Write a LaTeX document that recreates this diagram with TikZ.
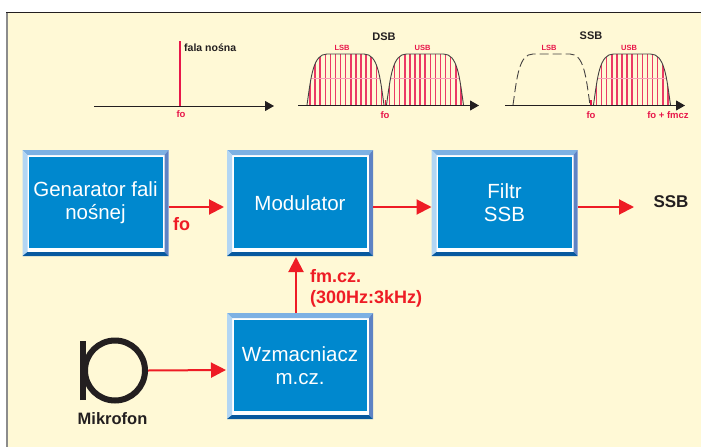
\documentclass[tikz,border=0pt]{standalone}
\usepackage{fontspec}
\setmainfont{Liberation Sans}
\usetikzlibrary{arrows.meta}
\definecolor{paper}{HTML}{FFF9D6}
\definecolor{boxblue}{HTML}{0088CE}
\definecolor{bevtop}{HTML}{7DB1E3}
\definecolor{bevleft}{HTML}{B3D6F3}
\definecolor{bevright}{HTML}{5E83C4}
\definecolor{bevbot}{HTML}{07599F}
\definecolor{sigred}{HTML}{EE1C25}
\definecolor{specred}{HTML}{E8174A}
\definecolor{ink}{HTML}{231F20}
\tikzstyle{block} = [rectangle, fill=white, inner sep=0pt, outer sep=0pt,
    minimum width=146pt, minimum height=106pt, text=white, align=center,
    font=\fontsize{20.5}{23}\selectfont,
    path picture={
      \coordinate (nw) at (path picture bounding box.north west);
      \coordinate (ne) at (path picture bounding box.north east);
      \coordinate (sw) at (path picture bounding box.south west);
      \coordinate (se) at (path picture bounding box.south east);
      \fill[bevtop] (nw) -- (ne) -- ([shift={(-4pt,-5pt)}]ne) -- ([shift={(5pt,-5pt)}]nw) -- cycle;
      \fill[bevleft] (nw) -- (sw) -- ([shift={(5pt,4pt)}]sw) -- ([shift={(5pt,-5pt)}]nw) -- cycle;
      \fill[bevright] (ne) -- (se) -- ([shift={(-4pt,4pt)}]se) -- ([shift={(-4pt,-5pt)}]ne) -- cycle;
      \fill[bevbot] (sw) -- (se) -- ([shift={(-4pt,4pt)}]se) -- ([shift={(5pt,4pt)}]sw) -- cycle;
      \fill[boxblue] ([shift={(6.5pt,-7pt)}]nw) rectangle ([shift={(-6pt,8pt)}]se);
    }]
\tikzstyle{signal} = [draw=sigred, line width=2pt,
    -{Triangle[length=15pt,width=15pt]}]
\tikzstyle{axis} = [draw=ink, line width=0.9pt,
    -{Triangle[length=9pt,width=10pt]}]
\tikzstyle{envelope} = [draw=ink!85, line width=0.9pt]
\tikzstyle{speclabel} = [text=specred, font=\bfseries\fontsize{7.5}{8}\selectfont, inner sep=0pt]
\tikzstyle{freqlabel} = [text=specred, font=\bfseries\fontsize{9.5}{10}\selectfont, inner sep=0pt]
\tikzstyle{title} = [text=ink, font=\bfseries\fontsize{11}{12}\selectfont, inner sep=0pt]
\tikzstyle{redlabel} = [text=sigred, font=\bfseries\fontsize{18}{21}\selectfont, inner sep=0pt, align=left]
\tikzstyle{blacklabel} = [text=ink, font=\bfseries\fontsize{16.5}{18}\selectfont, inner sep=0pt]
\tikzstyle{micring} = [draw=ink, circle, line width=6pt, minimum size=60pt, inner sep=0pt]
\newcommand{\lobeoutline}{(0,0) .. controls (4,-28) and (6,-51) .. (20,-51) -- (57,-51) .. controls (71,-51) and (73,-28) .. (77,0)}
\newcommand{\hatchedlobe}[1]{%
  \begin{scope}[shift={(#1,105)}]
    \begin{scope}
      \clip \lobeoutline -- cycle;
      \foreach \i in {0,...,14} {
        \draw[specred!85, line width=1.5pt] ({3+5.1*\i},0) -- ({3+5.1*\i},-52);
      }
      \draw[specred!40, line width=0.4pt] (0,-27) -- (77,-27);
    \end{scope}
    \draw[envelope] \lobeoutline;
  \end{scope}}

\begin{document}
\begin{tikzpicture}[x=1pt,y=-1pt]
\useasboundingbox (0,0) rectangle (701,447);
\fill[white] (0,0) rectangle (701,447);
\fill[paper] (7,13) rectangle (701,447);
\draw[ink, line width=1pt] (6,12.5) -- (701,12.5);
\draw[black!45, line width=2.2pt] (7,12.5) -- (7,447);

% carrier
\coordinate (A1) at (94,106);
\coordinate (B1) at (274,106);
\coordinate (Ctop) at (180,41);
\coordinate (Cbot) at (180,106);
\draw[specred, line width=1.2pt] (Ctop) -- (Cbot);
\draw[axis] (A1) -- (B1);
\node[title, anchor=west, name=carrier, font=\bfseries\fontsize{10.5}{12}\selectfont] at (184,48) {fala nośna};
\node[freqlabel, name=fo1] at (181,114.5) {fo};

% DSB
\coordinate (A2) at (298,105.5);
\coordinate (B2) at (479,105.5);
\hatchedlobe{307}
\hatchedlobe{386.5}
\draw[specred, line width=1pt] (385.5,100) -- (385.5,105);
\draw[axis] (A2) -- (B2);
\node[title, name=dsb] at (384,37) {DSB};
\node[speclabel, name=lsb2] at (342,48) {LSB};
\node[speclabel, name=usb2] at (422.5,48) {USB};
\node[freqlabel, name=fo2] at (385,115) {fo};

% SSB
\coordinate (A3) at (505,105.5);
\coordinate (B3) at (685,105.5);
\draw[envelope, dash pattern=on9pt off4pt, shift={(513,105)}] \lobeoutline;
\hatchedlobe{593.5}
\draw[specred, line width=1.4pt] (591,100) -- (591,105);
\draw[axis] (A3) -- (B3);
\node[title, name=ssb3] at (591,36) {SSB};
\node[speclabel, name=lsb3] at (549,48) {LSB};
\node[speclabel, name=usb3] at (629,48) {USB};
\node[freqlabel, name=fo3] at (591,115) {fo};
\node[freqlabel, name=fo4] at (668,115) {fo + fmcz};

% blocks
\node[block, name=gen] at (95.5,203) {Genarator fali\\nośnej};
\node[block, name=mod] at (300,203) {Modulator};
\node[block, name=flt] at (504.5,203) {Filtr\\SSB};
\node[block, name=amp] at (300,366) {Wzmacniacz\\m.cz.};

\node[micring, name=mic] at (115,370.5) {};
\draw[ink, line width=6pt] ([shift={(-32pt,-29.5pt)}]mic.center) -- ([shift={(-32pt,29.5pt)}]mic.center);
\node[blacklabel, name=miclabel] at (112.5,419) {Mikrofon};

\coordinate (out) at (634,207);
\node[blacklabel, name=ssbout, font=\bfseries\fontsize{17}{18}\selectfont] at (671,202) {SSB};
\node[redlabel, anchor=west, name=folabel] at (173,224) {fo};
\node[redlabel, anchor=west, name=fmlabel] at (310,288.5) {fm.cz.\\(300Hz:3kHz)};

\draw[signal] ([yshift=-4pt]gen.east) -- ([yshift=-4pt,xshift=-3pt]mod.west);
\draw[signal] ([yshift=-4pt]mod.east) -- ([yshift=-4pt]flt.west);
\draw[signal] ([yshift=-4pt]flt.east) -- (out);
\draw[signal] ([xshift=-4pt]amp.north) -- ([xshift=-4pt,yshift=-1pt]mod.south);
\draw[signal] (mic.east) -- ([yshift=-4pt,xshift=-1pt]amp.west);

\end{tikzpicture}
\end{document}
